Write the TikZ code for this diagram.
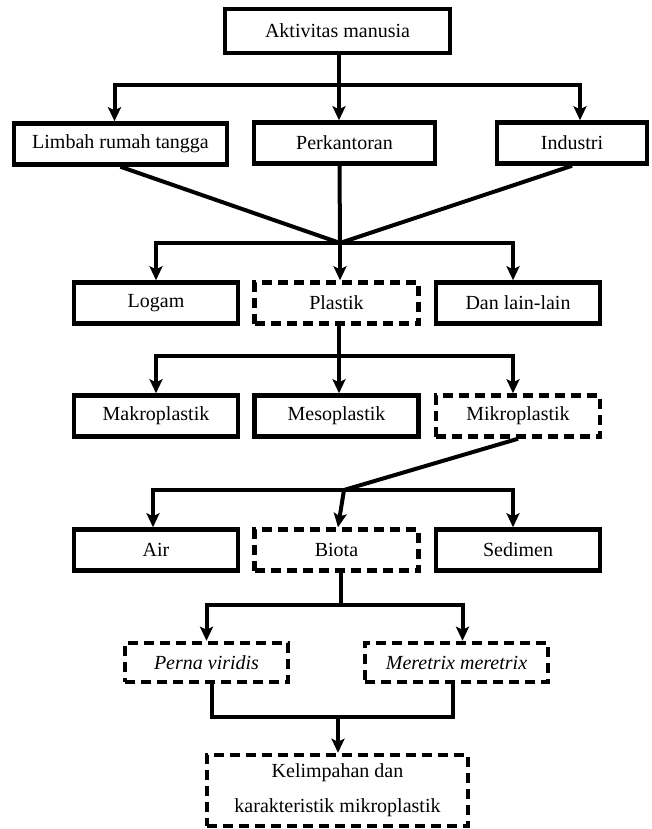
\documentclass[tikz,border=0pt]{standalone}
\usepackage{fontspec}
\setmainfont{Liberation Serif}
\usetikzlibrary{arrows.meta}

\begin{document}
\begin{tikzpicture}[x=1pt,y=-1pt,
    box/.style={draw,line width=4.5pt,minimum width=164pt,minimum height=41pt,inner sep=2pt,
        font=\fontsize{20}{35}\selectfont},
    dbox/.style={box,dash pattern=on 10pt off 6pt},
    line/.style={line width=4pt},
    arr/.style={line,-{Stealth[length=14pt,width=13pt,inset=3pt]}}]
    \useasboundingbox (0,0) rectangle (651,829);

    % sumber
    \node[box,minimum width=225pt,minimum height=44pt] (akt) at (337.5,31) {Aktivitas manusia};
    \node[box,minimum width=213pt] (limbah) at (120.5,144) {Limbah rumah tangga};
    \node[box,minimum width=181pt] (kantor) at (344.5,143) {Perkantoran};
    \node[box,minimum width=150pt] (industri) at (572,143) {Industri};

    % jenis sampah
    \node[box] (logam) at (156,303) {Logam};
    \node[dbox] (plastik) at (336.5,303) {Plastik};
    \node[box] (lain) at (518,303) {Dan lain-lain};

    \node[box] (makro) at (156,416) {Makroplastik};
    \node[box] (meso) at (336.5,416) {Mesoplastik};
    \node[dbox] (mikro) at (518,416) {Mikroplastik};

    \node[box] (air) at (156,550) {Air};
    \node[dbox] (biota) at (336.5,550) {Biota};
    \node[box] (sedimen) at (518,550) {Sedimen};

    \node[dbox,minimum width=163pt,minimum height=39pt,font=\fontsize{20}{35}\selectfont\itshape] (perna) at (206.5,662.5) {Perna viridis};
    \node[dbox,minimum width=183pt,minimum height=39pt,font=\fontsize{20}{35}\selectfont\itshape] (meretrix) at (456.5,662.5) {Meretrix meretrix};

    \node[dbox,minimum width=261pt,minimum height=71pt,align=center] (hasil) at (337.5,790.5) {Kelimpahan dan\\karakteristik mikroplastik};

    \coordinate (j1) at (339,85);
    \coordinate (j2) at (340,243);
    \coordinate (j3) at (339,356);
    \coordinate (j4) at (344,490);
    \coordinate (j5) at (341,605);
    \coordinate (j6) at (338,717);

    \draw[line] (akt.south -| j1) -- (j1);
    \draw[arr] (j1) -| ([xshift=-6pt]limbah.north);
    \draw[arr] (j1) -- (j1 |- kantor.north);
    \draw[arr] (j1) -| ([xshift=8pt]industri.north);

    \draw[line] (limbah.south) -- (j2);
    \draw[line] ([xshift=-5pt]kantor.south) -- (j2);
    \draw[line] (industri.south) -- (j2);
    \draw[arr] (j2) -| (logam.north);
    \draw[arr] (j2) -- (j2 |- plastik.north);
    \draw[arr] (j2) -| ([xshift=-5pt]lain.north);

    \draw[line] (plastik.south -| j3) -- (j3);
    \draw[arr] (j3) -| (makro.north);
    \draw[arr] (j3) -- (j3 |- meso.north);
    \draw[arr] (j3) -| ([xshift=-5pt]mikro.north);

    \draw[line] (mikro.south) -- (j4);
    \draw[arr] (j4) -| ([xshift=-3pt]air.north);
    \draw[arr] (j4) -- ([xshift=1.5pt]biota.north);
    \draw[arr] (j4) -| ([xshift=-5pt]sedimen.north);

    \draw[line] (biota.south -| j5) -- (j5);
    \draw[arr] (j5) -| (perna.north);
    \draw[arr] (j5) -| ([xshift=6pt]meretrix.north);

    \draw[line] ([xshift=5pt]perna.south) |- (j6);
    \draw[line] ([xshift=-4pt]meretrix.south) |- (j6);
    \draw[arr] (j6) -- (hasil.north -| j6);
\end{tikzpicture}
\end{document}
